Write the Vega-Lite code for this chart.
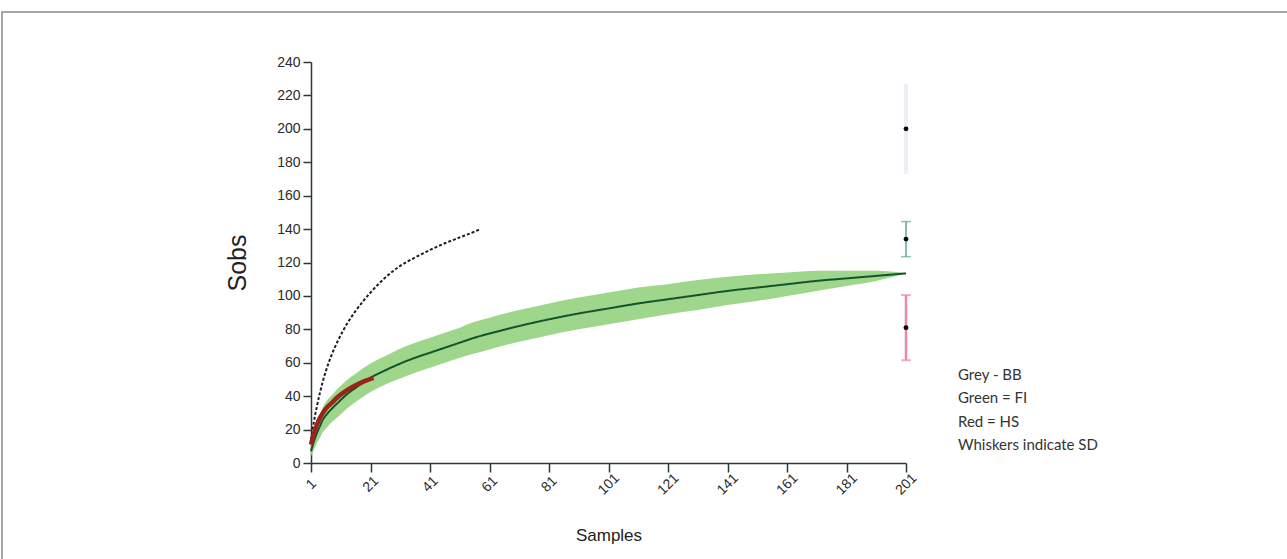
{
  "$schema": "https://vega.github.io/schema/vega-lite/v6.json",
  "autosize": {"type": "none"},
  "padding": {"left": 2, "top": 12, "right": 0, "bottom": 0},
  "width": 1290,
  "height": 552,
  "background": "white",
  "config": {
    "view": {"stroke": "#8a8a8a", "strokeWidth": 1.5},
    "font": "Liberation Sans"
  },
  "datasets": {
    "curves": [
      {"series": "Grey - BB", "sample": 1, "value": 14},
      {"series": "Grey - BB", "sample": 2, "value": 25},
      {"series": "Grey - BB", "sample": 3, "value": 34},
      {"series": "Grey - BB", "sample": 4, "value": 42},
      {"series": "Grey - BB", "sample": 5, "value": 49},
      {"series": "Grey - BB", "sample": 6, "value": 55},
      {"series": "Grey - BB", "sample": 8, "value": 65},
      {"series": "Grey - BB", "sample": 10, "value": 73},
      {"series": "Grey - BB", "sample": 13, "value": 83},
      {"series": "Grey - BB", "sample": 16, "value": 91},
      {"series": "Grey - BB", "sample": 21, "value": 102},
      {"series": "Grey - BB", "sample": 26, "value": 111},
      {"series": "Grey - BB", "sample": 31, "value": 118},
      {"series": "Grey - BB", "sample": 36, "value": 123},
      {"series": "Grey - BB", "sample": 41, "value": 127.5},
      {"series": "Grey - BB", "sample": 46, "value": 131.5},
      {"series": "Grey - BB", "sample": 51, "value": 135},
      {"series": "Grey - BB", "sample": 56, "value": 138.5},
      {"series": "Grey - BB", "sample": 58, "value": 140},
      {"series": "Green = FI", "sample": 1, "value": 7, "lo": 4, "hi": 10},
      {"series": "Green = FI", "sample": 2, "value": 13, "lo": 8, "hi": 18},
      {"series": "Green = FI", "sample": 3, "value": 18, "lo": 12, "hi": 24},
      {"series": "Green = FI", "sample": 4, "value": 22, "lo": 15, "hi": 29},
      {"series": "Green = FI", "sample": 5, "value": 26, "lo": 18.5, "hi": 33.5},
      {"series": "Green = FI", "sample": 6, "value": 28.5, "lo": 20.5, "hi": 36.5},
      {"series": "Green = FI", "sample": 8, "value": 32.5, "lo": 24.5, "hi": 40.5},
      {"series": "Green = FI", "sample": 10, "value": 36, "lo": 27.5, "hi": 44.5},
      {"series": "Green = FI", "sample": 13, "value": 41, "lo": 32.5, "hi": 49.5},
      {"series": "Green = FI", "sample": 16, "value": 45, "lo": 36.5, "hi": 53.5},
      {"series": "Green = FI", "sample": 21, "value": 51, "lo": 42.5, "hi": 59.5},
      {"series": "Green = FI", "sample": 26, "value": 55.5, "lo": 47, "hi": 64},
      {"series": "Green = FI", "sample": 31, "value": 59.5, "lo": 50.5, "hi": 68.5},
      {"series": "Green = FI", "sample": 36, "value": 63, "lo": 54, "hi": 72},
      {"series": "Green = FI", "sample": 41, "value": 66, "lo": 57, "hi": 75},
      {"series": "Green = FI", "sample": 46, "value": 69, "lo": 60, "hi": 78},
      {"series": "Green = FI", "sample": 51, "value": 72, "lo": 63, "hi": 81},
      {"series": "Green = FI", "sample": 56, "value": 75, "lo": 65.5, "hi": 84.5},
      {"series": "Green = FI", "sample": 61, "value": 77.5, "lo": 68, "hi": 87},
      {"series": "Green = FI", "sample": 71, "value": 82, "lo": 72.5, "hi": 91.5},
      {"series": "Green = FI", "sample": 81, "value": 86, "lo": 76.5, "hi": 95.5},
      {"series": "Green = FI", "sample": 91, "value": 89.5, "lo": 80, "hi": 99},
      {"series": "Green = FI", "sample": 101, "value": 92.5, "lo": 83, "hi": 102},
      {"series": "Green = FI", "sample": 111, "value": 95.5, "lo": 86, "hi": 105},
      {"series": "Green = FI", "sample": 121, "value": 98, "lo": 89, "hi": 107},
      {"series": "Green = FI", "sample": 131, "value": 100.5, "lo": 91.5, "hi": 109.5},
      {"series": "Green = FI", "sample": 141, "value": 103, "lo": 94.5, "hi": 111.5},
      {"series": "Green = FI", "sample": 151, "value": 105, "lo": 97, "hi": 113},
      {"series": "Green = FI", "sample": 161, "value": 107, "lo": 100, "hi": 114},
      {"series": "Green = FI", "sample": 171, "value": 109, "lo": 103, "hi": 115},
      {"series": "Green = FI", "sample": 181, "value": 110.5, "lo": 106, "hi": 115},
      {"series": "Green = FI", "sample": 191, "value": 112, "lo": 109, "hi": 115},
      {"series": "Green = FI", "sample": 201, "value": 113.5, "lo": 113.5, "hi": 113.5},
      {"series": "Red = HS", "sample": 1, "value": 11},
      {"series": "Red = HS", "sample": 2, "value": 18},
      {"series": "Red = HS", "sample": 3, "value": 23},
      {"series": "Red = HS", "sample": 4, "value": 27},
      {"series": "Red = HS", "sample": 5, "value": 30},
      {"series": "Red = HS", "sample": 6, "value": 32.5},
      {"series": "Red = HS", "sample": 8, "value": 36},
      {"series": "Red = HS", "sample": 10, "value": 39.5},
      {"series": "Red = HS", "sample": 13, "value": 43.5},
      {"series": "Red = HS", "sample": 16, "value": 46.5},
      {"series": "Red = HS", "sample": 19, "value": 49},
      {"series": "Red = HS", "sample": 22, "value": 51}
    ],
    "whiskers": [
      {"series": "Grey - BB", "sample": 201, "value": 200, "lo": 173, "hi": 227},
      {"series": "Green = FI", "sample": 201, "value": 134, "lo": 123.5, "hi": 144.5},
      {"series": "Red = HS", "sample": 201, "value": 81, "lo": 61.5, "hi": 100.5}
    ]
  },
  "layer": [
    {
      "data": {"name": "curves"},
      "transform": [{"filter": "datum.series === 'Green = FI'"}],
      "mark": {"type": "area", "color": "#93d17e", "opacity": 0.9, "interpolate": "monotone"},
      "encoding": {
        "x": {
          "field": "sample", "type": "quantitative",
          "scale": {"domain": [1, 201], "range": [309, 904], "nice": false, "zero": false},
          "axis": {
            "values": [1, 21, 41, 61, 81, 101, 121, 141, 161, 181, 201],
            "offset": -101, "grid": false,
            "labelAngle": -45, "labelAlign": "center", "labelBaseline": "middle",
            "labelPadding": 12, "tickSize": 9, "labelFlush": false, "labelOverlap": false,
            "domainColor": "#2d3838", "tickColor": "#2d3838", "domainWidth": 1.5, "tickWidth": 1.5,
            "labelFontSize": 14, "labelColor": "#2a2a2a",
            "title": "Samples", "titleFontSize": 17, "titleFontWeight": "normal",
            "titleColor": "#222222", "titlePadding": 30
          }
        },
        "y": {
          "field": "lo", "type": "quantitative",
          "scale": {"domain": [0, 240], "range": [451, 50], "nice": false, "zero": false},
          "axis": {
            "values": [0, 20, 40, 60, 80, 100, 120, 140, 160, 180, 200, 220, 240],
            "offset": -309, "grid": false, "tickSize": 8, "labelPadding": 3,
            "domainColor": "#2d3838", "tickColor": "#2d3838", "domainWidth": 1.5, "tickWidth": 1.5,
            "labelFontSize": 14, "labelColor": "#2a2a2a",
            "title": "Sobs", "titleFontSize": 25, "titleFontWeight": "normal",
            "titleColor": "#222222", "titlePadding": 26
          }
        },
        "y2": {"field": "hi"}
      }
    },
    {
      "data": {"name": "curves"},
      "transform": [{"filter": "datum.series !== 'Red = HS'"}],
      "mark": {"type": "line", "interpolate": "monotone"},
      "encoding": {
        "x": {"field": "sample", "type": "quantitative"},
        "y": {"field": "value", "type": "quantitative"},
        "color": {
          "field": "series", "type": "nominal",
          "scale": {
            "domain": ["Grey - BB", "Green = FI", "Red = HS", "Whiskers indicate SD"],
            "range": ["#1e1e1e", "#14532d", "#9a2418", "#000000"]
          },
          "legend": {
            "orient": "none", "legendX": 941, "legendY": 355, "title": null,
            "symbolOpacity": 0, "symbolSize": 0, "symbolStrokeWidth": 0, "labelOffset": 0,
            "padding": 0, "rowPadding": 7.5,
            "labelFont": "Lato", "labelFontSize": 15, "labelColor": "#333333", "labelLimit": 300
          }
        },
        "strokeDash": {
          "field": "series", "type": "nominal",
          "scale": {"domain": ["Grey - BB", "Green = FI"], "range": [[3, 2], [1, 0]]},
          "legend": null
        }
      }
    },
    {
      "data": {"name": "curves"},
      "transform": [{"filter": "datum.series === 'Red = HS'"}],
      "mark": {"type": "line", "interpolate": "monotone", "color": "#9a2418", "strokeWidth": 4.5},
      "encoding": {
        "x": {"field": "sample", "type": "quantitative"},
        "y": {"field": "value", "type": "quantitative"}
      }
    },
    {
      "data": {"name": "whiskers"},
      "transform": [{"filter": "datum.series === 'Grey - BB'"}],
      "mark": {"type": "rule", "color": "#eceff5", "strokeWidth": 4},
      "encoding": {
        "x": {"field": "sample", "type": "quantitative"},
        "y": {"field": "lo", "type": "quantitative"},
        "y2": {"field": "hi"}
      }
    },
    {
      "data": {"name": "whiskers"},
      "transform": [{"filter": "datum.series === 'Green = FI'"}],
      "layer": [
        {"mark": {"type": "rule", "color": "#5fa88e", "strokeWidth": 1.5},
         "encoding": {"x": {"field": "sample", "type": "quantitative"}, "y": {"field": "lo", "type": "quantitative"}, "y2": {"field": "hi"}}},
        {"mark": {"type": "tick", "orient": "horizontal", "color": "#5fa88e", "size": 10, "thickness": 1.5},
         "encoding": {"x": {"field": "sample", "type": "quantitative"}, "y": {"field": "lo", "type": "quantitative"}}},
        {"mark": {"type": "tick", "orient": "horizontal", "color": "#5fa88e", "size": 10, "thickness": 1.5},
         "encoding": {"x": {"field": "sample", "type": "quantitative"}, "y": {"field": "hi", "type": "quantitative"}}}
      ]
    },
    {
      "data": {"name": "whiskers"},
      "transform": [{"filter": "datum.series === 'Red = HS'"}],
      "layer": [
        {"mark": {"type": "rule", "color": "#e88aa8", "strokeWidth": 2.5},
         "encoding": {"x": {"field": "sample", "type": "quantitative"}, "y": {"field": "lo", "type": "quantitative"}, "y2": {"field": "hi"}}},
        {"mark": {"type": "tick", "orient": "horizontal", "color": "#e88aa8", "size": 10, "thickness": 2},
         "encoding": {"x": {"field": "sample", "type": "quantitative"}, "y": {"field": "lo", "type": "quantitative"}}},
        {"mark": {"type": "tick", "orient": "horizontal", "color": "#e88aa8", "size": 10, "thickness": 2},
         "encoding": {"x": {"field": "sample", "type": "quantitative"}, "y": {"field": "hi", "type": "quantitative"}}}
      ]
    },
    {
      "data": {"name": "whiskers"},
      "mark": {"type": "point", "filled": true, "color": "#000000", "size": 24, "opacity": 1},
      "encoding": {
        "x": {"field": "sample", "type": "quantitative"},
        "y": {"field": "value", "type": "quantitative"}
      }
    }
  ]
}
